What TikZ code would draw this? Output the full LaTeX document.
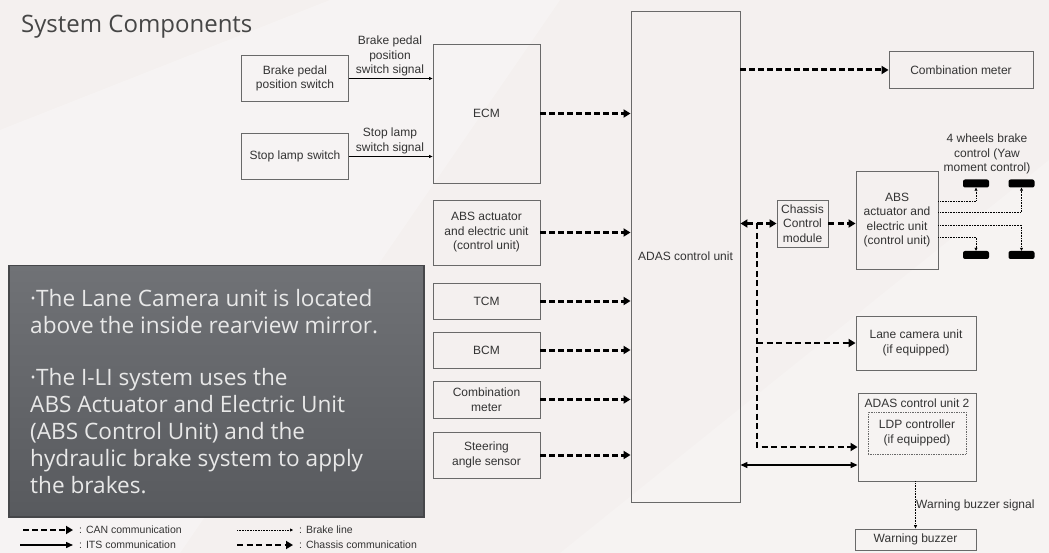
\documentclass[tikz,border=0pt]{standalone}
\usepackage{fontspec}
\setmainfont{Liberation Sans}
\newfontfamily\slidefont{Open Sans}
\usetikzlibrary{positioning}
\usetikzlibrary{arrows.meta}
\definecolor{bgpaper}{RGB}{244,240,239}
\definecolor{boxline}{RGB}{105,105,105}
\definecolor{notetop}{RGB}{112,114,118}
\definecolor{notebot}{RGB}{88,90,94}
\definecolor{notedark}{RGB}{70,71,74}
\definecolor{notetext}{RGB}{232,232,232}
\definecolor{titlegray}{RGB}{70,70,70}

\begin{document}
\begin{tikzpicture}[x=1pt,y=-1pt,
			box/.style={draw=boxline,line width=0.9pt,align=center,inner sep=1pt,font=\fontsize{12}{14.5}\selectfont,text=black!80},
			lbl/.style={align=center,inner sep=1pt,font=\fontsize{12}{14.5}\selectfont,text=black!80},
			can/.style={line width=3pt,dash pattern=on 6pt off 3pt,-{Triangle[length=7pt,width=8pt]}},
			chassis/.style={line width=2.8pt,dash pattern=on 6pt off 3.5pt,-{Triangle[length=7pt,width=8pt]}},
			its/.style={line width=1.3pt,{Triangle[length=7pt,width=6pt]}-{Triangle[length=7pt,width=6pt]}},
			brake/.style={line width=0.6pt,densely dotted,-{Triangle[length=3pt,width=3pt]}},
			sig/.style={line width=0.6pt,-{Triangle[length=3.5pt,width=3pt]}},
			legend/.style={anchor=west,inner sep=1pt,font=\fontsize{10.5}{12}\selectfont,text=black!80},
			wheel/.style={fill=black,rounded corners=2pt,minimum width=26pt,minimum height=8pt,inner sep=0pt}]
			\useasboundingbox (0,0) rectangle (1049,553);
			\clip (0,0) rectangle (1049,553);
			\fill[bgpaper] (0,0) rectangle (1049,553);
			\fill[white,opacity=0.25] (0,130) -- (330,0) -- (560,0) -- (180,553) -- (0,553) -- cycle;
			\fill[white,opacity=0.2] (560,553) -- (1049,160) -- (1049,553) -- cycle;
			\node[anchor=base west,inner sep=0,text=titlegray,font=\slidefont\fontsize{24}{28}\selectfont] (title) at (21,33) {System Components};
			\node[box,minimum width=107pt,minimum height=46pt] (bpsw) at (295,78.5) {Brake pedal\\position switch};
			\node[box,minimum width=107pt,minimum height=46pt] (slsw) at (295,156.5) {Stop lamp switch};
			\node[box,minimum width=107pt,minimum height=139pt] (ecm) at (486.5,113.5) {ECM};
			\node[box,minimum width=107pt,minimum height=65pt] (absl) at (486.5,232.5) {ABS actuator\\and electric unit\\(control unit)};
			\node[box,minimum width=107pt,minimum height=36pt] (tcm) at (486.5,301) {TCM};
			\node[box,minimum width=107pt,minimum height=36pt] (bcm) at (486.5,350) {BCM};
			\node[box,minimum width=107pt,minimum height=37pt] (combl) at (486.5,399.5) {Combination\\meter};
			\node[box,minimum width=107pt,minimum height=46pt] (steer) at (486.5,455) {Steering\\angle sensor};
			\node[box,minimum width=109pt,minimum height=491pt] (adas) at (685.5,256.5) {ADAS control unit};
			\node[box,minimum width=144pt,minimum height=37pt] (combr) at (961,70) {Combination meter};
			\node[box,minimum width=51pt,minimum height=47pt] (chassis) at (802.5,223.5) {Chassis\\Control\\module};
			\node[box,minimum width=82pt,minimum height=98pt] (absr) at (897,220) {ABS\\actuator and\\electric unit\\(control unit)};
			\node[box,minimum width=120pt,minimum height=54pt] (lane) at (916,343) {Lane camera unit\\(if equipped)};
			\node[box,minimum width=118pt,minimum height=88pt] (adas2) at (917,437) {};
			\node[lbl,below=5pt of adas2.north] (adas2t) {ADAS control unit 2};
			\node[lbl,draw=boxline,densely dotted,line width=0.7pt,minimum width=98pt,minimum height=42pt,below=3pt of adas2t] (ldp) {LDP controller\\(if equipped)};
			\node[box,minimum width=121pt,minimum height=21pt] (buzzer) at (915.5,539.5) {Warning buzzer};
			\node[wheel] (wfl) at (976,183.5) {};
			\node[wheel] (wfr) at (1021.5,183.5) {};
			\node[wheel] (wrl) at (976,255) {};
			\node[wheel] (wrr) at (1021.5,255) {};
			\node[lbl] (wlbl) at (987,154) {4 wheels brake\\control (Yaw\\moment control)};
			\node[lbl] (bpsig) at (390,56) {Brake pedal\\position\\switch signal};
			\node[lbl] (slsig) at (390,141) {Stop lamp\\switch signal};
			\node[lbl,anchor=west] (buzsig) at (915,505) {Warning buzzer signal};
			\draw[sig] (bpsw) -- (bpsw -| ecm.west);
			\draw[sig] (slsw) -- (slsw -| ecm.west);
			\draw[can] (ecm) -- (ecm -| adas.west);
			\draw[can] (absl) -- (absl -| adas.west);
			\draw[can] (tcm) -- (tcm -| adas.west);
			\draw[can] (bcm) -- (bcm -| adas.west);
			\draw[can] (combl) -- (combl -| adas.west);
			\draw[can] (steer) -- (steer -| adas.west);
			\draw[can] (adas.east |- combr) -- (combr);
			\coordinate (split) at (757,223.5);
			\coordinate (chend) at ([yshift=-10pt]adas2.west);
			\coordinate (itsend) at ([yshift=-28pt]adas2.west);
			\draw[chassis,{Triangle[length=7pt,width=8pt]}-{Triangle[length=7pt,width=8pt]}] (adas.east |- chassis) -- (chassis);
			\draw[chassis] (split) |- (chend);
			\draw[chassis] (split |- lane.west) -- (lane.west);
			\draw[chassis] (chassis) -- (chassis -| absr.west);
			\draw[its] (adas.east |- itsend) -- (itsend);
			\draw[brake] (absr.east |- 0,201) -| (wfl);
			\draw[brake] (absr.east |- 0,212) -| (wfr);
			\draw[brake] (absr.east |- 0,225) -| (wrr);
			\draw[brake] (absr.east |- 0,237) -| (wrl);
			\draw[sig,densely dotted] (buzzer.north |- adas2.south) -- (buzzer.north);
			\node[draw=notedark,line width=1.5pt,top color=notetop,bottom color=notebot,minimum width=415pt,minimum height=251pt,anchor=north west,inner sep=0pt] (note) at (8,265) {};
			\node[anchor=north west,align=left,inner sep=0pt,text=notetext,font=\slidefont\fontsize{22.6}{27}\selectfont] (notetxt) at (30,289) {·The Lane Camera unit is located\\above the inside rearview mirror.\\[25pt]·The I-LI system uses the\\ABS Actuator and Electric Unit\\(ABS Control Unit) and the\\hydraulic brake system to apply\\the brakes.};
			\coordinate (lgcanA) at (23,530);
			\coordinate (lgcanB) at (73,530);
			\coordinate (lgbrA) at (237,530);
			\coordinate (lgbrB) at (293,530);
			\coordinate (lgitsA) at (20,545);
			\coordinate (lgitsB) at (73,545);
			\coordinate (lgchA) at (237,545);
			\coordinate (lgchB) at (293,545);
			\draw[can,line width=2.2pt] (lgcanA) -- (lgcanB);
			\draw[brake] (lgbrA) -- (lgbrB);
			\draw[line width=1.4pt,-{Triangle[length=7pt,width=6pt]}] (lgitsA) -- (lgitsB);
			\draw[chassis,line width=2.2pt] (lgchA) -- (lgchB);
			\node[legend] (lgcan) at (78,530) {: CAN communication};
			\node[legend] (lgbr) at (298,530) {: Brake line};
			\node[legend] (lgits) at (78,545) {: ITS communication};
			\node[legend] (lgch) at (298,545) {: Chassis communication};
		\end{tikzpicture}
\end{document}
